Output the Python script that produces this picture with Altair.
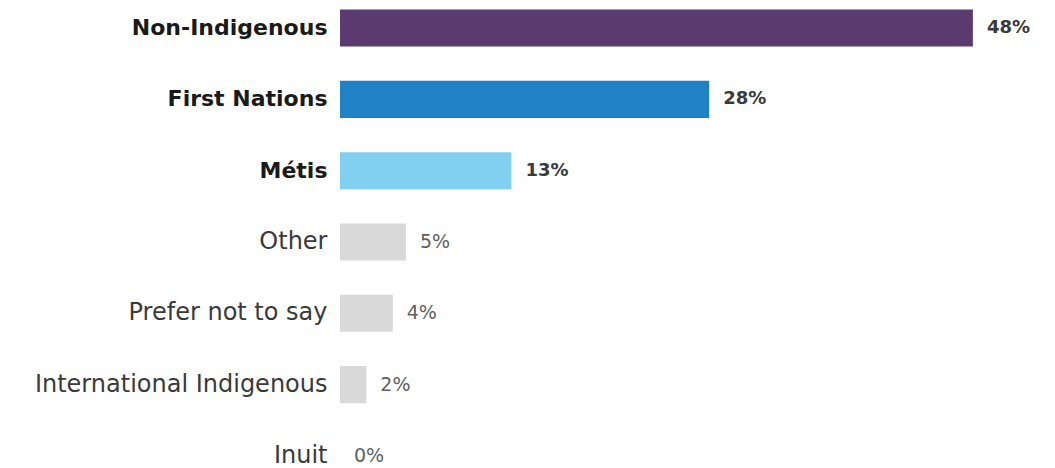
import altair as alt
import pandas as pd

categories = ["Non-Indigenous", "First Nations", "Métis", "Other",
              "Prefer not to say", "International Indigenous", "Inuit"]
values = [48, 28, 13, 5, 4, 2, 0]
colors = ["#5B3A70", "#1E82C5", "#82D0F0", "#D9D9D9", "#D9D9D9", "#D9D9D9", "#D9D9D9"]
bold_categories = ["Non-Indigenous", "First Nations", "Métis"]

df = pd.DataFrame({
    "cat": categories,
    "val": values,
    "label": [f"{v}%" for v in values],
    "bold": [c in bold_categories for c in categories],
})

bold_expr = "indexof(['Non-Indigenous','First Nations','Métis'], datum.value) >= 0"
FONT = "DejaVu Sans"

y = alt.Y("cat:N", sort=categories, title=None,
          scale=alt.Scale(range=[9.5, 474.5], paddingInner=0.48, paddingOuter=0),
          axis=alt.Axis(domain=False, ticks=False, labelPadding=13,
                        labelFont=FONT,
                        labelFontSize={"expr": f"{bold_expr} ? 22 : 24"},
                        labelFontWeight={"expr": f"{bold_expr} ? 'bold' : 'normal'"},
                        labelColor={"expr": f"{bold_expr} ? '#1a1a1a' : '#3a3a3a'"},
                        labelLimit=400))
x = alt.X("val:Q", title=None, axis=None,
          scale=alt.Scale(domain=[0, 54], range=[0, 712], nice=False))

bars = alt.Chart(df).mark_bar().encode(
    x=x, y=y,
    color=alt.Color("cat:N", scale=alt.Scale(domain=categories, range=colors), legend=None),
)

text_bold = alt.Chart(df).transform_filter("datum.bold").mark_text(
    align="left", baseline="middle", dx=14, font=FONT, fontSize=18,
    fontWeight="bold", color="#3a3a3a").encode(x=x, y=y, text="label:N")

text_norm = alt.Chart(df).transform_filter("!datum.bold").mark_text(
    align="left", baseline="middle", dx=14, font=FONT, fontSize=19,
    fontWeight="normal", color="#606060").encode(x=x, y=y, text="label:N")

chart = (bars + text_bold + text_norm).properties(
    width=715, height=468,
    autosize=alt.AutoSizeParams(type="none"),
    padding={"left": 340, "top": 0, "right": 0, "bottom": 0},
    background="white",
).configure_view(stroke=None)

chart.save("out.html", embed_options={"renderer": "svg", "actions": False})
